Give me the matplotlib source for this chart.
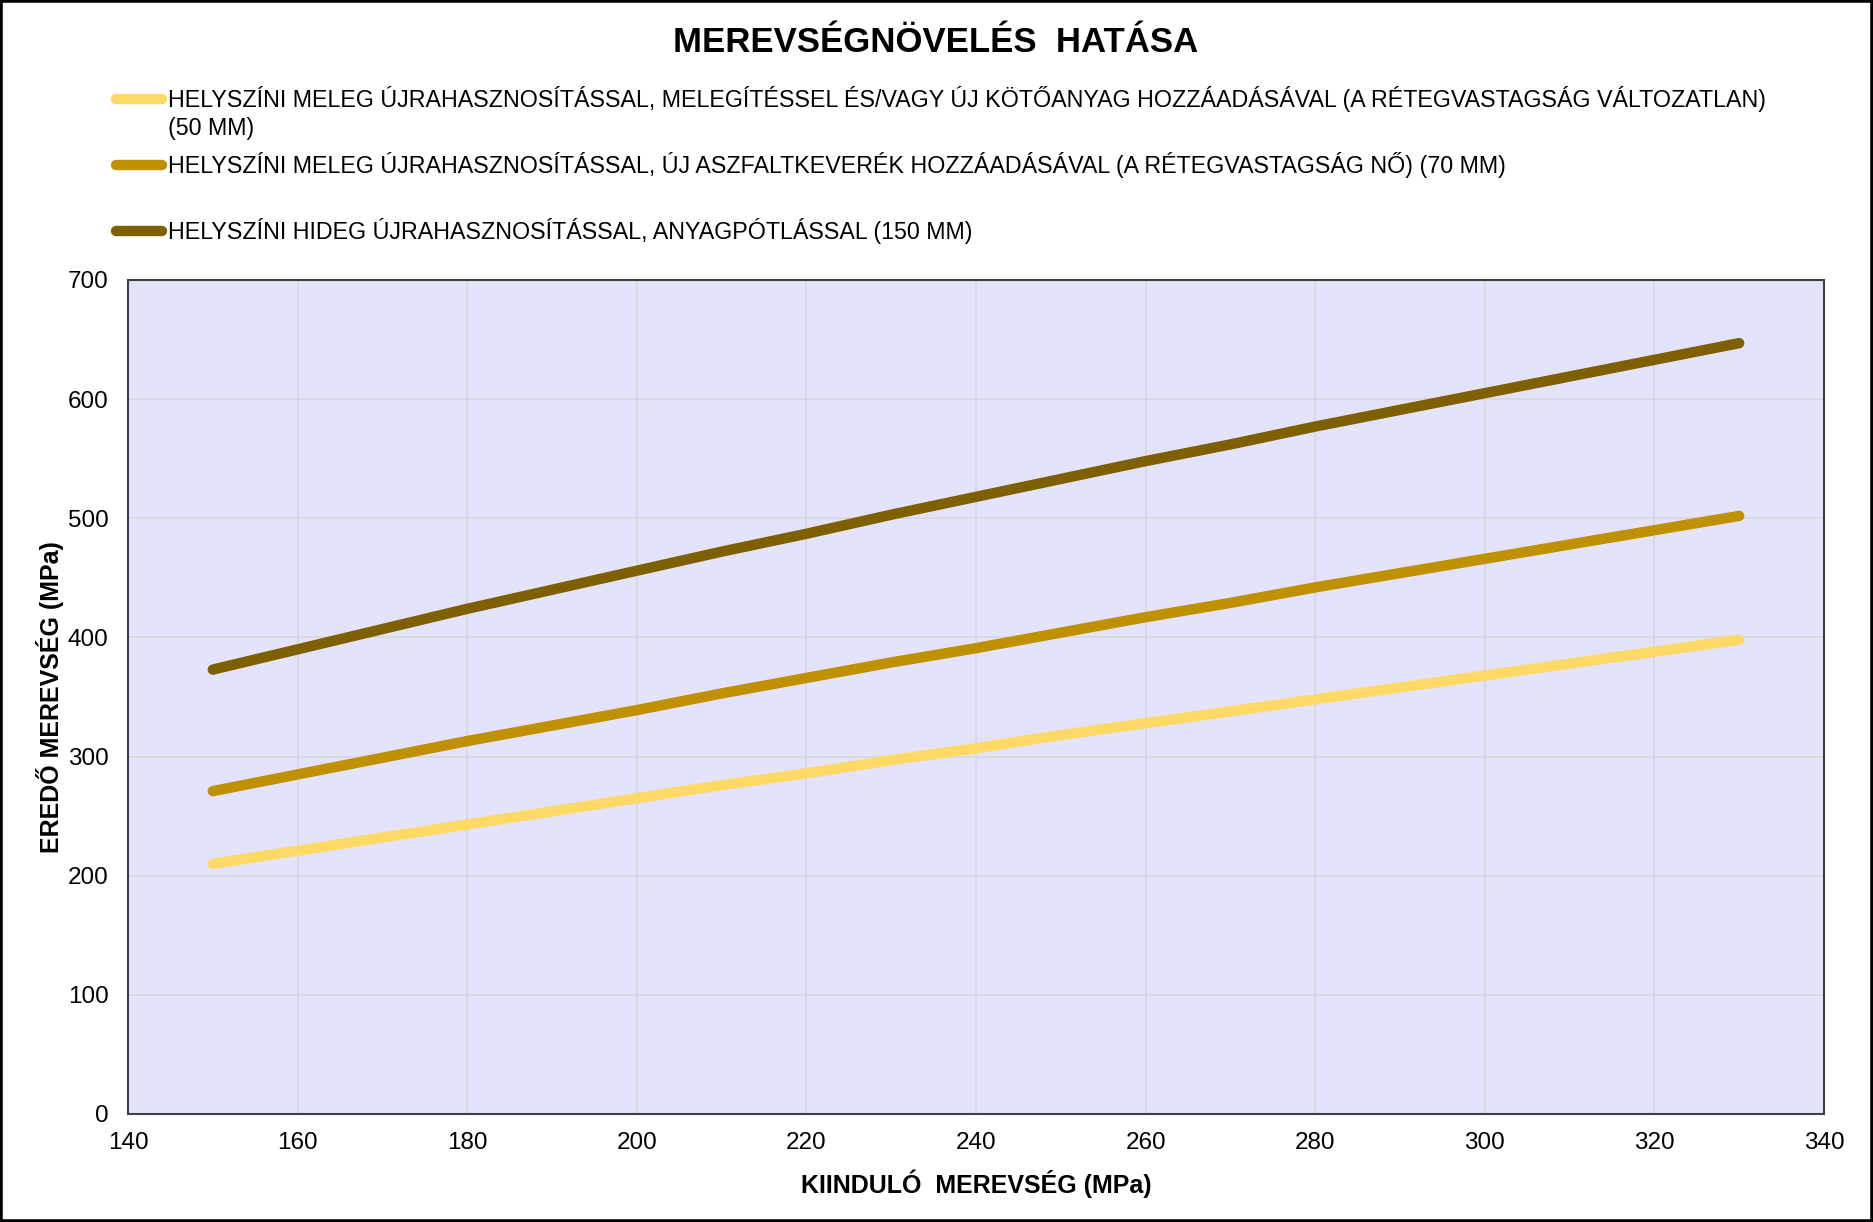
import matplotlib.pyplot as plt
from matplotlib.lines import Line2D
from matplotlib.patches import Rectangle

plt.rcParams['font.family'] = ['Liberation Sans', 'DejaVu Sans']

# ------------------------------------------------------------
# Data
# ------------------------------------------------------------

kiindulo = [150, 160, 170, 180, 190, 200, 210, 220, 230, 240,
            250, 260, 270, 280, 290, 300, 310, 320, 330]

meleg_50mm = [210, 221, 232, 243, 254, 265, 276, 286, 297, 307,
              318, 328, 338, 348, 358, 368, 378, 388, 398]
meleg_70mm = [271, 285, 299, 313, 326, 339, 353, 366, 379, 391,
              404, 417, 429, 442, 454, 466, 478, 490, 502]
hideg_150mm = [373, 390, 407, 424, 440, 456, 472, 487, 503, 518,
               533, 548, 562, 577, 591, 605, 619, 633, 647]

series_labels = [
    "HELYSZÍNI MELEG ÚJRAHASZNOSÍTÁSSAL, MELEGÍTÉSSEL ÉS/VAGY ÚJ KÖTŐANYAG HOZZÁADÁSÁVAL (A RÉTEGVASTAGSÁG VÁLTOZATLAN)\n(50 MM)",
    "HELYSZÍNI MELEG ÚJRAHASZNOSÍTÁSSAL, ÚJ ASZFALTKEVERÉK HOZZÁADÁSÁVAL (A RÉTEGVASTAGSÁG NŐ) (70 MM)",
    "HELYSZÍNI HIDEG ÚJRAHASZNOSÍTÁSSAL, ANYAGPÓTLÁSSAL (150 MM)",
]
series_colors = ["#FFD966", "#BF9000", "#7F6000"]

x_ticks = [140, 160, 180, 200, 220, 240, 260, 280, 300, 320, 340]
y_ticks = [0, 100, 200, 300, 400, 500, 600, 700]

# ------------------------------------------------------------
# Figure
# ------------------------------------------------------------

W, H = 1873, 1222
fig = plt.figure(figsize=(W / 100, H / 100), dpi=100)
ax = fig.add_axes([128 / W, 1 - 1114 / H, (1824 - 128) / W, (1114 - 280) / H])
ax.set_facecolor("#E3E3FC")

for ys, col in zip([meleg_50mm, meleg_70mm, hideg_150mm], series_colors):
    ax.plot(kiindulo, ys, color=col, lw=7.5, solid_capstyle="round", zorder=3)

ax.set_xlim(140, 340)
ax.set_ylim(0, 700)
ax.set_xticks(x_ticks)
ax.set_yticks(y_ticks)
ax.grid(True, color="#D9D9D9", lw=1.2, zorder=0)
ax.set_axisbelow(True)
ax.tick_params(length=0, labelsize=17.5)
ax.tick_params(axis="y", pad=14)
ax.tick_params(axis="x", pad=13)
for s in ax.spines.values():
    s.set_color("#404040")
    s.set_linewidth(1.5)

ax.set_xlabel("KIINDULÓ  MEREVSÉG (MPa)", fontsize=18, fontweight="bold", labelpad=11)
ax.set_ylabel("EREDŐ MEREVSÉG (MPa)", fontsize=18, fontweight="bold", labelpad=3)

fig.text(936 / W, 1 - 42 / H, "MEREVSÉGNÖVELÉS  HATÁSA",
         ha="center", va="center", fontsize=25, fontweight="bold")

# legend, drawn by hand to keep Excel's slot layout
leg_y = [99, 165, 231]
for lab, col, yy in zip(series_labels, series_colors, leg_y):
    fy = 1 - yy / H
    fig.add_artist(Line2D([116 / W, 162 / W], [fy, fy], color=col, lw=7.5,
                          solid_capstyle="round", transform=fig.transFigure))
    if "\n" in lab:
        fig.text(168 / W, 1 - (yy - 13) / H, lab, ha="left", va="top",
                 fontsize=16.75, linespacing=1.3)
    else:
        fig.text(168 / W, fy, lab, ha="left", va="center", fontsize=16.75)

fig.add_artist(Rectangle((0, 0), 1, 1, transform=fig.transFigure, fill=False,
                         edgecolor="black", lw=4))

fig.savefig("out.png", dpi=100)
